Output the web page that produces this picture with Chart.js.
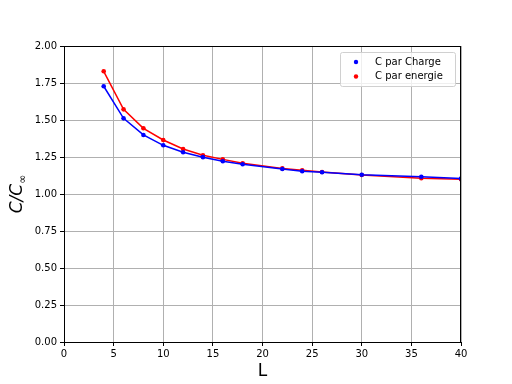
<!DOCTYPE html>
<html>
<head>
<meta charset="utf-8">
<script src="https://cdn.jsdelivr.net/npm/chart.js@4.4.1/dist/chart.umd.min.js"></script>
<style>
  html, body { margin: 0; padding: 0; background: #fff; }
  #wrap { width: 512px; height: 384px; }
</style>
</head>
<body>
<div id="wrap"><canvas id="chart" width="512" height="384"></canvas></div>
<script>
// valeurs
const L_values = [4, 6, 8, 10, 12, 14, 16, 18, 22, 24, 26, 30, 36, 40];
const C_charge = [1.728, 1.511, 1.399, 1.329, 1.282, 1.249, 1.221, 1.201, 1.169, 1.154, 1.147, 1.130, 1.117, 1.104];
const C_energie = [1.829, 1.572, 1.444, 1.365, 1.304, 1.262, 1.234, 1.208, 1.173, 1.160, 1.149, 1.128, 1.106, 1.099];
const xTicks = [0, 5, 10, 15, 20, 25, 30, 35, 40];
const yTicks = [0, 0.25, 0.5, 0.75, 1.0, 1.25, 1.5, 1.75, 2.0];
const labels = ['C par Charge', 'C par energie'];

const FONT = 'DejaVu Sans';

function toPoints(ys) {
    return L_values.map((x, i) => ({ x: x, y: ys[i] }));
}

// cadre + titres + légende à la matplotlib
const decorPlugin = {
    id: 'decor',
    afterDraw(chart) {
        const ctx = chart.ctx;
        const a = chart.chartArea;
        ctx.save();
        ctx.strokeStyle = '#000';
        ctx.lineWidth = 1;
        ctx.strokeRect(a.left + 0.5, a.top + 0.5, a.right - a.left - 1, a.bottom - a.top);

        // titre axe x
        ctx.fillStyle = '#000';
        ctx.font = '17px "' + FONT + '"';
        ctx.textAlign = 'center';
        ctx.textBaseline = 'middle';
        ctx.fillText('L', (a.left + a.right) / 2, 372);

        // titre axe y : C/C∞
        ctx.translate(18, (a.top + a.bottom) / 2);
        ctx.rotate(-Math.PI / 2);
        ctx.font = 'italic 17px "' + FONT + '"';
        const main = 'C/C';
        const wMain = ctx.measureText(main).width;
        ctx.font = '11px "' + FONT + '"';
        const wSub = ctx.measureText('∞').width;
        const x0 = -(wMain + wSub) / 2;
        ctx.textAlign = 'left';
        ctx.textBaseline = 'middle';
        ctx.font = 'italic 17px "' + FONT + '"';
        ctx.fillText(main, x0, 0);
        ctx.font = '11px "' + FONT + '"';
        ctx.fillText('∞', x0 + wMain, 5);
        ctx.restore();

        // légende
        ctx.save();
        const bx = 340, by = 52, bw = 115, bh = 34;
        ctx.fillStyle = 'rgba(255,255,255,0.8)';
        ctx.strokeStyle = '#d0d0d0';
        ctx.lineWidth = 1;
        ctx.beginPath();
        ctx.roundRect(bx + 0.5, by + 0.5, bw, bh, 2);
        ctx.fill();
        ctx.stroke();
        ctx.font = '10px "' + FONT + '"';
        ctx.textAlign = 'left';
        ctx.textBaseline = 'middle';
        chart.data.datasets.forEach((ds, i) => {
            const y = by + 10 + i * 14.5;
            ctx.fillStyle = ds.borderColor;
            ctx.beginPath();
            ctx.arc(bx + 16, y, 2.2, 0, Math.PI * 2);
            ctx.fill();
            ctx.fillStyle = '#000';
            ctx.fillText(ds.label, bx + 35, y);
        });
        ctx.restore();
    }
};

const ctx = document.getElementById('chart').getContext('2d');
new Chart(ctx, {
    type: 'line',
    data: {
        datasets: [
            {
                label: labels[0],
                data: toPoints(C_charge),
                borderColor: '#0000ff',
                backgroundColor: '#0000ff',
                borderWidth: 1.5,
                pointRadius: 2.3,
                pointBorderWidth: 0,
                tension: 0,
                fill: false
            },
            {
                label: labels[1],
                data: toPoints(C_energie),
                borderColor: '#ff0000',
                backgroundColor: '#ff0000',
                borderWidth: 1.5,
                pointRadius: 2.3,
                pointBorderWidth: 0,
                tension: 0,
                fill: false
            }
        ]
    },
    options: {
        responsive: false,
        animation: false,
        layout: { padding: { left: 0, top: 46, right: 51, bottom: 0 } },
        plugins: {
            legend: { display: false },
            tooltip: { enabled: false }
        },
        scales: {
            x: {
                type: 'linear',
                min: 0,
                max: 40,
                afterBuildTicks: (s) => { s.ticks = xTicks.map(v => ({ value: v })); },
                afterFit: (s) => { s.height = 42; },
                grid: { color: '#b0b0b0', lineWidth: 1, tickColor: '#000', tickLength: 4 },
                border: { display: false },
                ticks: {
                    color: '#000',
                    font: { family: FONT, size: 10 },
                    padding: 2,
                    maxRotation: 0,
                    callback: (v) => String(v)
                }
            },
            y: {
                min: 0,
                max: 2,
                afterBuildTicks: (s) => { s.ticks = yTicks.map(v => ({ value: v })); },
                afterFit: (s) => { s.width = 64; },
                grid: { color: '#b0b0b0', lineWidth: 1, tickColor: '#000', tickLength: 4 },
                border: { display: false },
                ticks: {
                    color: '#000',
                    font: { family: FONT, size: 10 },
                    padding: 3,
                    callback: (v) => Number(v).toFixed(2)
                }
            }
        }
    },
    plugins: [decorPlugin]
});
</script>
</body>
</html>
